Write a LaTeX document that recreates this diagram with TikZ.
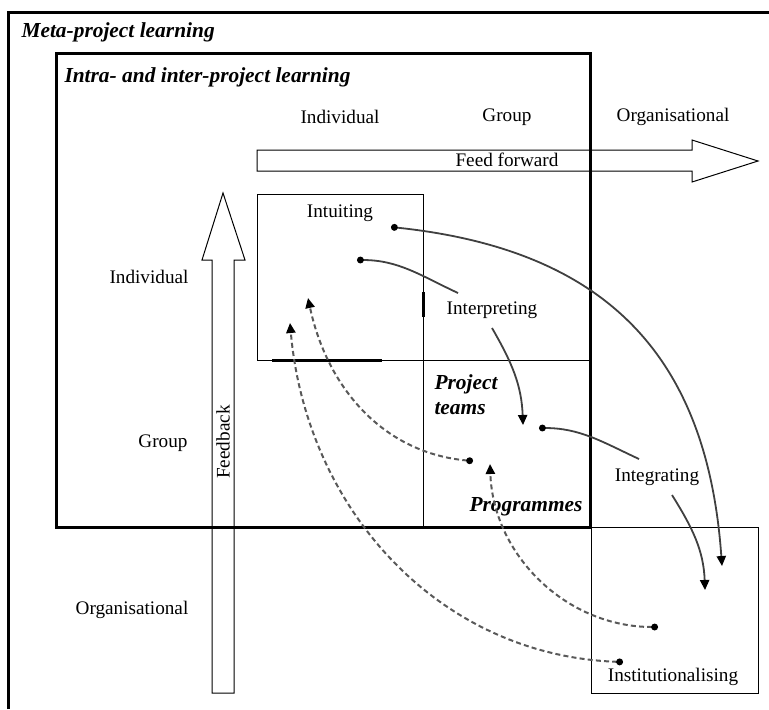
\documentclass[tikz,border=0pt]{standalone}
\usepackage{fontspec}
\setmainfont{Liberation Serif}
\usepackage{tikz}
\usetikzlibrary{arrows.meta}

\tikzset{
  lbl/.style={inner sep=1pt,font=\fontsize{9.6}{11.5}\selectfont},
  ttl/.style={inner sep=1pt,font=\fontsize{10.7}{12.5}\selectfont\bfseries\itshape},
  flow/.style={black!75,line width=0.9pt},
  backflow/.style={black!65,line width=1pt,dash pattern=on 2.5pt off 1.6pt},
  bead/.tip={Circle[length=3.4pt,color=black]},
  >={Triangle[length=5pt,width=4.6pt,color=black]}
}

\begin{document}
\begin{tikzpicture}[x=0.5pt,y=-0.5pt,line width=0.5pt]
            \useasboundingbox (0,0) rectangle (769,709);

            % outer frame
            \draw[line width=1.5pt] (8,709) -- (8,12) -- (769,12);
            \node[ttl,anchor=west] (meta) at (19,32) {Meta-project learning};

            % feed forward / feedback arrows
            \draw (257,150) -- (692,150) -- (692,140) -- (758,161) -- (692,182) -- (692,171) -- (257,171) -- cycle;
            \node[lbl] (ff) at (507,160) {Feed forward};
            \draw (212,693) -- (212,260) -- (202,260) -- (223,193) -- (245,260) -- (234,260) -- (234,693) -- cycle;
            \node[lbl,rotate=90] (fb) at (223,442) {Feedback};

            % inner frame
            \draw[line width=1.5pt] (56,53) rectangle (590,527);
            \node[ttl,anchor=west] (intra) at (62,77) {Intra- and inter-project learning};

            % cells
            \draw (257,360) -- (257,194) -- (423,194) -- (423,527);
            \draw (257,360) -- (590,360);
            \draw[line width=1.5pt] (272,360) -- (382,360);
            \draw[line width=1.5pt] (423,292) -- (423,317);
            \draw (591,527) rectangle (758,693);

            % level headings
            \node[lbl] (colind) at (340,117) {Individual};
            \node[lbl] (colgrp) at (507,117) {Group};
            \node[lbl] (colorg) at (673,117) {Organisational};
            \node[lbl] (rowind) at (149,277) {Individual};
            \node[lbl] (rowgrp) at (163,443) {Group};
            \node[lbl] (roworg) at (132,610) {Organisational};

            % processes
            \node[lbl] (intu) at (340,213) {Intuiting};
            \node[lbl] (interp) at (492,310) {Interpreting};
            \node[lbl] (integ) at (657,477) {Integrating};
            \node[lbl] (inst) at (673,677) {Institutionalising};
            \node[ttl,anchor=west,align=left] (teams) at (432,395) {Project\\teams};
            \node[ttl] (prog) at (526,507) {Programmes};

            % curve ends
            \coordinate (d1) at (391,227);
            \coordinate (a1) at (722,566);
            \coordinate (d2) at (357,260);
            \coordinate (e2) at (458,293);
            \coordinate (s3) at (492,328);
            \coordinate (a3) at (523,425);
            \coordinate (d4) at (539,428);
            \coordinate (e4) at (639,459);
            \coordinate (s5) at (672,495);
            \coordinate (a5) at (705,590);
            \coordinate (d6) at (658,627);
            \coordinate (a6) at (490,464);
            \coordinate (d7) at (623,662);
            \coordinate (a7) at (290,323);
            \coordinate (d8) at (473,461);
            \coordinate (a8) at (308,298);

            % feed forward flows
            \draw[flow,bead->] (d1) to[out=-6,in=94,looseness=1.15] (a1);
            \draw[flow,bead-]  (d2) to[out=0,in=155] (e2);
            \draw[flow,->]     (s3) to[out=-60,in=92] (a3);
            \draw[flow,bead-]  (d4) to[out=0,in=155] (e4);
            \draw[flow,->]     (s5) to[out=-58,in=92] (a5);

            % feedback flows
            \draw[backflow,bead->] (d6) to[out=180,in=-88] (a6);
            \draw[backflow,bead->] (d7) to[out=178,in=-85] (a7);
            \draw[backflow,bead->] (d8) to[out=175,in=-78] (a8);
        \end{tikzpicture}
\end{document}
